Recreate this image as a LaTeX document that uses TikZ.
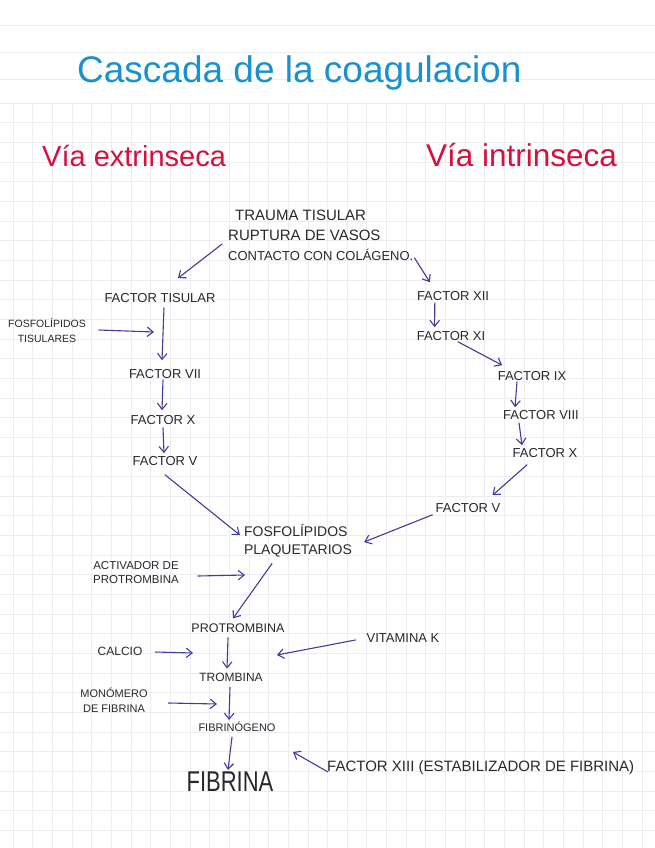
\documentclass[tikz,border=0pt]{standalone}
\usepackage{fontspec}
\usepackage{graphicx}
\setmainfont{Liberation Sans}
\usetikzlibrary{arrows.meta}
\definecolor{ink}{RGB}{64,60,156}
\definecolor{pen}{RGB}{40,40,45}
\definecolor{titleblue}{RGB}{25,145,205}
\definecolor{headred}{RGB}{214,16,62}
\definecolor{gridc}{RGB}{236,236,243}
\begin{document}
\begin{tikzpicture}[x=1pt,y=-1pt,
  lbl/.style={text=pen, inner sep=1pt, font=\fontsize{13}{15}\selectfont},
  arr/.style={draw=ink, line width=1.1pt, line cap=round, -{Straight Barb[length=6pt,width=9.5pt]}},
  head/.style={text=headred, inner sep=0pt, anchor=base west, font=\fontsize{29}{32}\selectfont},
  gridline/.style={draw=gridc, line width=0.5pt}
]
\useasboundingbox[fill=white] (0,0) rectangle (655,848);
% paper
\foreach \yy in {25,52,79} \draw[gridline, line width=0.6pt] (0,\yy) -- (655,\yy);
\foreach \k in {0,...,32} \draw[gridline] ({13+19.65*\k},103) -- ({13+19.65*\k},848);
\foreach \k in {0,...,38} \draw[gridline] (0,{103+19.65*\k}) -- (655,{103+19.65*\k});

% titles
\node[text=titleblue, inner sep=0pt, anchor=base west, font=\fontsize{37}{40}\selectfont] (title) at (77,83) {Cascada de la coagulacion};
\node[head] (vext) at (42,166) {Vía extrinseca};
\node[head, font=\fontsize{31.5}{34}\selectfont] (vint) at (426,166) {Vía intrinseca};

% trauma
\node[lbl, anchor=west, font=\fontsize{15}{17}\selectfont] (t1) at (234,215) {TRAUMA TISULAR};
\node[lbl, anchor=west, font=\fontsize{15}{17}\selectfont] (t2) at (227,235) {RUPTURA DE VASOS};
\node[lbl, anchor=west, font=\fontsize{13}{15}\selectfont] (t3) at (227,255) {CONTACTO CON COLÁGENO.};

% extrinsic
\node[lbl] (ft) at (160,298) {FACTOR TISULAR};
\node[lbl, align=center, font=\fontsize{10.5}{15}\selectfont] (fost) at (47,330) {FOSFOLÍPIDOS\\TISULARES};
\node[lbl] (f7) at (165,374) {FACTOR VII};
\node[lbl] (f10) at (163,420) {FACTOR X};
\node[lbl] (f5) at (165,461) {FACTOR V};

% intrinsic
\node[lbl] (f12) at (453,296) {FACTOR XII};
\node[lbl] (f11) at (451,336) {FACTOR XI};
\node[lbl] (f9) at (532,376) {FACTOR IX};
\node[lbl] (f8) at (541,415) {FACTOR VIII};
\node[lbl] (f10b) at (545,453) {FACTOR X};
\node[lbl] (f5b) at (468,508) {FACTOR V};

% common
\node[lbl, align=left, font=\fontsize{14}{18}\selectfont] (pp) at (298,541) {FOSFOLÍPIDOS\\PLAQUETARIOS};
\node[lbl, align=center, font=\fontsize{11.5}{14}\selectfont] (act) at (136,573) {ACTIVADOR DE\\PROTROMBINA};
\node[lbl, font=\fontsize{12.5}{14}\selectfont] (pr) at (238,628) {PROTROMBINA};
\node[lbl, font=\fontsize{12}{14}\selectfont] (cal) at (120,651) {CALCIO};
\node[lbl] (vk) at (403,638) {VITAMINA K};
\node[lbl, font=\fontsize{12}{14}\selectfont] (tr) at (231,677) {TROMBINA};
\node[lbl, align=center, font=\fontsize{11}{15}\selectfont] (mon) at (114,700) {MONÓMERO\\DE FIBRINA};
\node[lbl, font=\fontsize{11}{13}\selectfont] (fg) at (237,727) {FIBRINÓGENO};
\node[lbl, font=\fontsize{22}{24}\selectfont] (fib) at (230,782) {\scalebox{1}[1.3]{FIBRINA}};
\node[lbl, anchor=west, font=\fontsize{15}{17}\selectfont] (f13) at (326,768) {FACTOR XIII (ESTABILIZADOR DE FIBRINA)};

% free ends
\coordinate (j1) at (154,332);
\coordinate (j2) at (245,575);
\coordinate (j3) at (193,653);
\coordinate (j4) at (277,655);
\coordinate (j5) at (217,704);
\coordinate (j6) at (293,752);

% arrows from trauma
\draw[arr] ([xshift=-5pt,yshift=4pt]t3.north west) -- ([xshift=18pt,yshift=14pt]ft.north);
\draw[arr] ([yshift=-3pt]t3.east) -- ([xshift=14pt,yshift=8pt]f12.north west);

% extrinsic arrows
\draw[arr] ([xshift=4pt,yshift=-4pt]ft.south) -- ([xshift=-3pt,yshift=8pt]f7.north);
\draw[arr] ([xshift=12pt]fost.east) -- (j1);
\draw[arr] ([xshift=-2pt]f7.south) -- ([xshift=-1pt,yshift=4pt]f10.north);
\draw[arr] ([yshift=-2pt]f10.south) -- ([xshift=-1pt,yshift=2pt]f5.north);
\draw[arr] ([yshift=-8pt]f5.south) -- ([xshift=-3pt,yshift=6pt]pp.west);

% intrinsic arrows
\draw[arr] ([xshift=19pt,yshift=-1pt]f12.south west) -- ([xshift=19pt,yshift=3pt]f11.north west);
\draw[arr] ([xshift=7pt]f11.south) -- ([xshift=5.5pt,yshift=5pt]f9.north west);
\draw[arr] ([xshift=-15pt]f9.south) -- ([xshift=-26pt,yshift=2pt]f8.north);
\draw[arr] ([xshift=-22pt,yshift=-2pt]f8.south) -- ([xshift=-23pt,yshift=2pt]f10b.north);
\draw[arr] ([xshift=-18pt,yshift=-6pt]f10b.south) -- ([xshift=-9pt,yshift=7pt]f5b.north east);
\draw[arr] ([xshift=-2pt,yshift=-1pt]f5b.south west) -- ([xshift=11pt,yshift=-1pt]pp.east);

% common pathway arrows
\draw[arr] ([xshift=18pt,yshift=-3pt]act.east) -- (j2);
\draw[arr] ([xshift=-26pt,yshift=-5pt]pp.south) -- ([xshift=-5pt,yshift=4pt]pr.north);
\draw[arr] ([xshift=12pt,yshift=-1pt]cal.east) -- (j3);
\draw[arr] ([xshift=-10pt,yshift=-2pt]vk.west) -- (j4);
\draw[arr] ([xshift=-10pt,yshift=-4pt]pr.south) -- ([xshift=-4pt,yshift=3pt]tr.north);
\draw[arr] ([xshift=19.5pt,yshift=-3pt]mon.east) -- (j5);
\draw[arr] ([xshift=-1pt,yshift=-5pt]tr.south) -- ([xshift=-8pt,yshift=1pt]fg.north);
\draw[arr] ([xshift=-5pt,yshift=-4pt]fg.south) -- ([xshift=-2pt,yshift=1pt]fib.north);
\draw[arr] ([xshift=2pt,yshift=-4pt]f13.west) -- (j6);
\end{tikzpicture}
\end{document}
